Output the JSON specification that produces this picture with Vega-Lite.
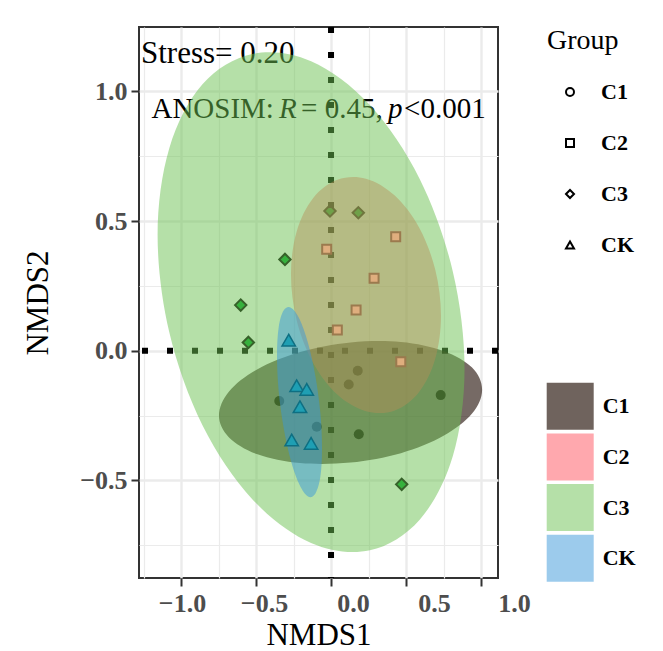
{
  "$schema": "https://vega.github.io/schema/vega-lite/v6.json",
  "width": 359,
  "height": 551,
  "autosize": "none",
  "padding": {"left": 139, "top": 27, "right": 165, "bottom": 73},
  "background": "white",
  "config": {
    "view": {"stroke": "#333333", "strokeWidth": 2},
    "font": "Liberation Serif"
  },
  "datasets": {
    "pts": [
      {"Group": "C1", "NMDS1": 0.178, "NMDS2": -0.077},
      {"Group": "C1", "NMDS1": 0.118, "NMDS2": -0.130},
      {"Group": "C1", "NMDS1": 0.731, "NMDS2": -0.171},
      {"Group": "C1", "NMDS1": -0.345, "NMDS2": -0.194},
      {"Group": "C1", "NMDS1": -0.095, "NMDS2": -0.293},
      {"Group": "C1", "NMDS1": 0.185, "NMDS2": -0.322},
      {"Group": "C2", "NMDS1": 0.431, "NMDS2": 0.439},
      {"Group": "C2", "NMDS1": -0.029, "NMDS2": 0.391},
      {"Group": "C2", "NMDS1": 0.287, "NMDS2": 0.279},
      {"Group": "C2", "NMDS1": 0.167, "NMDS2": 0.157},
      {"Group": "C2", "NMDS1": 0.042, "NMDS2": 0.080},
      {"Group": "C2", "NMDS1": 0.465, "NMDS2": -0.042},
      {"Group": "C3", "NMDS1": -0.007, "NMDS2": 0.539},
      {"Group": "C3", "NMDS1": 0.182, "NMDS2": 0.532},
      {"Group": "C3", "NMDS1": -0.307, "NMDS2": 0.352},
      {"Group": "C3", "NMDS1": -0.602, "NMDS2": 0.176},
      {"Group": "C3", "NMDS1": -0.551, "NMDS2": 0.032},
      {"Group": "C3", "NMDS1": 0.471, "NMDS2": -0.515},
      {"Group": "CK", "NMDS1": -0.282, "NMDS2": 0.041},
      {"Group": "CK", "NMDS1": -0.229, "NMDS2": -0.135},
      {"Group": "CK", "NMDS1": -0.162, "NMDS2": -0.149},
      {"Group": "CK", "NMDS1": -0.207, "NMDS2": -0.216},
      {"Group": "CK", "NMDS1": -0.262, "NMDS2": -0.344},
      {"Group": "CK", "NMDS1": -0.133, "NMDS2": -0.357}
    ],
    "ell": [
      {"Group": "C1", "i": 0, "NMDS1": 1.007, "NMDS2": -0.150},
      {"Group": "C1", "i": 1, "NMDS1": 0.940, "NMDS2": -0.242},
      {"Group": "C1", "i": 2, "NMDS1": 0.750, "NMDS2": -0.328},
      {"Group": "C1", "i": 3, "NMDS1": 0.466, "NMDS2": -0.395},
      {"Group": "C1", "i": 4, "NMDS1": 0.130, "NMDS2": -0.431},
      {"Group": "C1", "i": 5, "NMDS1": -0.206, "NMDS2": -0.433},
      {"Group": "C1", "i": 6, "NMDS1": -0.490, "NMDS2": -0.399},
      {"Group": "C1", "i": 7, "NMDS1": -0.680, "NMDS2": -0.334},
      {"Group": "C1", "i": 8, "NMDS1": -0.747, "NMDS2": -0.250},
      {"Group": "C1", "i": 9, "NMDS1": -0.680, "NMDS2": -0.157},
      {"Group": "C1", "i": 10, "NMDS1": -0.490, "NMDS2": -0.071},
      {"Group": "C1", "i": 11, "NMDS1": -0.206, "NMDS2": -0.005},
      {"Group": "C1", "i": 12, "NMDS1": 0.130, "NMDS2": 0.032},
      {"Group": "C1", "i": 13, "NMDS1": 0.466, "NMDS2": 0.034},
      {"Group": "C1", "i": 14, "NMDS1": 0.750, "NMDS2": -0.001},
      {"Group": "C1", "i": 15, "NMDS1": 0.940, "NMDS2": -0.065},
      {"Group": "C2", "i": 0, "NMDS1": 0.733, "NMDS2": 0.135},
      {"Group": "C2", "i": 1, "NMDS1": 0.695, "NMDS2": -0.030},
      {"Group": "C2", "i": 2, "NMDS1": 0.587, "NMDS2": -0.159},
      {"Group": "C2", "i": 3, "NMDS1": 0.425, "NMDS2": -0.230},
      {"Group": "C2", "i": 4, "NMDS1": 0.233, "NMDS2": -0.233},
      {"Group": "C2", "i": 5, "NMDS1": 0.042, "NMDS2": -0.169},
      {"Group": "C2", "i": 6, "NMDS1": -0.120, "NMDS2": -0.046},
      {"Group": "C2", "i": 7, "NMDS1": -0.229, "NMDS2": 0.117},
      {"Group": "C2", "i": 8, "NMDS1": -0.267, "NMDS2": 0.295},
      {"Group": "C2", "i": 9, "NMDS1": -0.229, "NMDS2": 0.460},
      {"Group": "C2", "i": 10, "NMDS1": -0.120, "NMDS2": 0.588},
      {"Group": "C2", "i": 11, "NMDS1": 0.042, "NMDS2": 0.659},
      {"Group": "C2", "i": 12, "NMDS1": 0.233, "NMDS2": 0.663},
      {"Group": "C2", "i": 13, "NMDS1": 0.425, "NMDS2": 0.598},
      {"Group": "C2", "i": 14, "NMDS1": 0.587, "NMDS2": 0.475},
      {"Group": "C2", "i": 15, "NMDS1": 0.695, "NMDS2": 0.312},
      {"Group": "C3", "i": 0, "NMDS1": 0.890, "NMDS2": -0.070},
      {"Group": "C3", "i": 1, "NMDS1": 0.812, "NMDS2": -0.406},
      {"Group": "C3", "i": 2, "NMDS1": 0.591, "NMDS2": -0.651},
      {"Group": "C3", "i": 3, "NMDS1": 0.259, "NMDS2": -0.769},
      {"Group": "C3", "i": 4, "NMDS1": -0.133, "NMDS2": -0.741},
      {"Group": "C3", "i": 5, "NMDS1": -0.525, "NMDS2": -0.572},
      {"Group": "C3", "i": 6, "NMDS1": -0.857, "NMDS2": -0.287},
      {"Group": "C3", "i": 7, "NMDS1": -1.078, "NMDS2": 0.071},
      {"Group": "C3", "i": 8, "NMDS1": -1.156, "NMDS2": 0.446},
      {"Group": "C3", "i": 9, "NMDS1": -1.078, "NMDS2": 0.781},
      {"Group": "C3", "i": 10, "NMDS1": -0.857, "NMDS2": 1.027},
      {"Group": "C3", "i": 11, "NMDS1": -0.525, "NMDS2": 1.144},
      {"Group": "C3", "i": 12, "NMDS1": -0.133, "NMDS2": 1.116},
      {"Group": "C3", "i": 13, "NMDS1": 0.259, "NMDS2": 0.947},
      {"Group": "C3", "i": 14, "NMDS1": 0.591, "NMDS2": 0.662},
      {"Group": "C3", "i": 15, "NMDS1": 0.812, "NMDS2": 0.305},
      {"Group": "CK", "i": 0, "NMDS1": -0.060, "NMDS2": -0.377},
      {"Group": "CK", "i": 1, "NMDS1": -0.071, "NMDS2": -0.485},
      {"Group": "CK", "i": 2, "NMDS1": -0.104, "NMDS2": -0.550},
      {"Group": "CK", "i": 3, "NMDS1": -0.153, "NMDS2": -0.562},
      {"Group": "CK", "i": 4, "NMDS1": -0.210, "NMDS2": -0.517},
      {"Group": "CK", "i": 5, "NMDS1": -0.267, "NMDS2": -0.425},
      {"Group": "CK", "i": 6, "NMDS1": -0.316, "NMDS2": -0.297},
      {"Group": "CK", "i": 7, "NMDS1": -0.349, "NMDS2": -0.155},
      {"Group": "CK", "i": 8, "NMDS1": -0.360, "NMDS2": -0.019},
      {"Group": "CK", "i": 9, "NMDS1": -0.349, "NMDS2": 0.090},
      {"Group": "CK", "i": 10, "NMDS1": -0.316, "NMDS2": 0.155},
      {"Group": "CK", "i": 11, "NMDS1": -0.267, "NMDS2": 0.166},
      {"Group": "CK", "i": 12, "NMDS1": -0.210, "NMDS2": 0.122},
      {"Group": "CK", "i": 13, "NMDS1": -0.153, "NMDS2": 0.029},
      {"Group": "CK", "i": 14, "NMDS1": -0.104, "NMDS2": -0.098},
      {"Group": "CK", "i": 15, "NMDS1": -0.071, "NMDS2": -0.241}
    ]
  },
  "resolve": {"axis": {"x": "independent", "y": "independent"}},
  "layer": [
    {
      "data": {"name": "pts"},
      "transform": [{"filter": "datum.Group == 'C1'"}],
      "mark": {"type": "point", "shape": "circle", "filled": true, "fill": "#000000", "strokeWidth": 0, "size": 100, "opacity": 1},
      "encoding": {
        "x": {"field": "NMDS1", "type": "quantitative",
          "scale": {"domain": [-1.28, 1.113], "nice": false, "zero": false},
          "axis": {"orient": "bottom", "values": [-1, -0.5, 0, 0.5, 1], "format": ".1f",
            "labelFont": "Liberation Serif", "labelFontSize": 26, "labelFontWeight": "bold", "labelColor": "#4d4d4d",
            "labelPadding": 4, "labelFlush": false, "labelOverlap": false, "labelBound": false,
            "labelOffset": {"condition": [
              {"test": "datum.value == -0.5", "value": 8},
              {"test": "datum.value == 0", "value": 22},
              {"test": "datum.value == 0.5", "value": 28},
              {"test": "datum.value == 1", "value": 33}], "value": 1},
            "tickSize": 8, "tickWidth": 2, "tickColor": "#333333", "domain": false,
            "grid": true, "gridColor": "#ebebeb", "gridWidth": 2.4,
            "title": "NMDS1", "titleFont": "Liberation Serif", "titleFontSize": 31, "titleFontWeight": "normal", "titleColor": "#000000", "titlePadding": 4}},
        "y": {"field": "NMDS2", "type": "quantitative",
          "scale": {"domain": [-0.876, 1.248], "nice": false, "zero": false},
          "axis": {"orient": "left", "values": [-0.5, 0, 0.5, 1], "format": ".1f",
            "labelFont": "Liberation Serif", "labelFontSize": 26, "labelFontWeight": "bold", "labelColor": "#4d4d4d",
            "labelPadding": 4, "labelFlush": false, "labelOverlap": false,
            "tickSize": 8, "tickWidth": 2, "tickColor": "#333333", "domain": false,
            "grid": true, "gridColor": "#ebebeb", "gridWidth": 2.4,
            "title": "NMDS2", "titleFont": "Liberation Serif", "titleFontSize": 31, "titleFontWeight": "normal", "titleColor": "#000000", "titlePadding": 25}}
      }
    },
    {
      "data": {"name": "pts"},
      "transform": [{"filter": "datum.Group == 'C3'"}],
      "mark": {"type": "point", "shape": "diamond", "filled": true, "fill": "#00a028", "stroke": "#000000", "strokeWidth": 2, "size": 130, "opacity": 1},
      "encoding": {
        "x": {"field": "NMDS1", "type": "quantitative",
          "axis": {"orient": "top", "values": [-1.25, -0.75, -0.25, 0.25, 0.75], "grid": true, "gridColor": "#ebebeb", "gridWidth": 1.2, "labels": false, "ticks": false, "domain": false, "title": null}},
        "y": {"field": "NMDS2", "type": "quantitative",
          "axis": {"orient": "right", "values": [-0.75, -0.25, 0.25, 0.75], "grid": true, "gridColor": "#ebebeb", "gridWidth": 1.2, "labels": false, "ticks": false, "domain": false, "title": null}}
      }
    },
    {
      "data": {"values": [{}]},
      "mark": {"type": "text", "text": "Stress= 0.20", "font": "Liberation Serif", "fontSize": 31, "align": "left", "baseline": "alphabetic", "color": "#000000"},
      "encoding": {"x": {"datum": -1.267, "type": "quantitative", "axis": null}, "y": {"datum": 1.108, "type": "quantitative", "axis": null}}
    },
    {
      "data": {"values": [{}]},
      "mark": {"type": "text", "text": "ANOSIM:", "font": "Liberation Serif", "fontSize": 29, "align": "left", "baseline": "alphabetic", "color": "#000000"},
      "encoding": {"x": {"datum": -1.197, "type": "quantitative", "axis": null}, "y": {"datum": 0.896, "type": "quantitative", "axis": null}}
    },
    {
      "data": {"values": [{}]},
      "mark": {"type": "text", "text": "R", "font": "Liberation Serif", "fontSize": 29, "fontStyle": "italic", "align": "left", "baseline": "alphabetic", "color": "#000000"},
      "encoding": {"x": {"datum": -0.347, "type": "quantitative", "axis": null}, "y": {"datum": 0.896, "type": "quantitative", "axis": null}}
    },
    {
      "data": {"values": [{}]},
      "mark": {"type": "text", "text": "= 0.45,", "font": "Liberation Serif", "fontSize": 29, "align": "left", "baseline": "alphabetic", "color": "#000000"},
      "encoding": {"x": {"datum": -0.2, "type": "quantitative", "axis": null}, "y": {"datum": 0.896, "type": "quantitative", "axis": null}}
    },
    {
      "data": {"values": [{}]},
      "mark": {"type": "text", "text": "p", "font": "Liberation Serif", "fontSize": 29, "fontStyle": "italic", "align": "left", "baseline": "alphabetic", "color": "#000000"},
      "encoding": {"x": {"datum": 0.38, "type": "quantitative", "axis": null}, "y": {"datum": 0.896, "type": "quantitative", "axis": null}}
    },
    {
      "data": {"values": [{}]},
      "mark": {"type": "text", "text": "<0.001", "font": "Liberation Serif", "fontSize": 29, "align": "left", "baseline": "alphabetic", "color": "#000000"},
      "encoding": {"x": {"datum": 0.487, "type": "quantitative", "axis": null}, "y": {"datum": 0.896, "type": "quantitative", "axis": null}}
    },
    {
      "data": {"values": [{}]},
      "mark": {"type": "rule", "color": "#000000", "strokeWidth": 6, "strokeDash": [6, 19], "strokeCap": "butt"},
      "encoding": {"y": {"datum": 0, "type": "quantitative", "axis": null}}
    },
    {
      "data": {"values": [{}]},
      "mark": {"type": "rule", "color": "#000000", "strokeWidth": 6, "strokeDash": [6, 19], "strokeCap": "butt"},
      "encoding": {"x": {"datum": 0, "type": "quantitative", "axis": null}}
    },
    {
      "data": {"name": "ell"},
      "transform": [{"filter": "datum.Group == 'C1'"}],
      "mark": {"type": "line", "interpolate": "cardinal-closed", "filled": true, "fill": "#220f06", "fillOpacity": 0.62, "strokeWidth": 0, "stroke": "transparent"},
      "encoding": {"x": {"field": "NMDS1", "type": "quantitative", "axis": null}, "y": {"field": "NMDS2", "type": "quantitative", "axis": null}, "order": {"field": "i", "type": "quantitative"}}
    },
    {
      "data": {"name": "ell"},
      "transform": [{"filter": "datum.Group == 'C2'"}],
      "mark": {"type": "line", "interpolate": "cardinal-closed", "filled": true, "fill": "#ff5a5e", "fillOpacity": 0.45, "strokeWidth": 0, "stroke": "transparent"},
      "encoding": {"x": {"field": "NMDS1", "type": "quantitative", "axis": null}, "y": {"field": "NMDS2", "type": "quantitative", "axis": null}, "order": {"field": "i", "type": "quantitative"}}
    },
    {
      "data": {"name": "ell"},
      "transform": [{"filter": "datum.Group == 'C3'"}],
      "mark": {"type": "line", "interpolate": "cardinal-closed", "filled": true, "fill": "#6bc151", "fillOpacity": 0.5, "strokeWidth": 0, "stroke": "transparent"},
      "encoding": {"x": {"field": "NMDS1", "type": "quantitative", "axis": null}, "y": {"field": "NMDS2", "type": "quantitative", "axis": null}, "order": {"field": "i", "type": "quantitative"}}
    },
    {
      "data": {"name": "ell"},
      "transform": [{"filter": "datum.Group == 'CK'"}],
      "mark": {"type": "line", "interpolate": "cardinal-closed", "filled": true, "fill": "#3997d9", "fillOpacity": 0.5, "strokeWidth": 0, "stroke": "transparent"},
      "encoding": {"x": {"field": "NMDS1", "type": "quantitative", "axis": null}, "y": {"field": "NMDS2", "type": "quantitative", "axis": null}, "order": {"field": "i", "type": "quantitative"}}
    },
    {
      "data": {"name": "pts"},
      "transform": [{"filter": "datum.Group == 'C2'"}],
      "mark": {"type": "point", "shape": "square", "filled": true, "fill": "#dfae7e", "stroke": "#9b7a4e", "strokeWidth": 2, "size": 81, "opacity": 1},
      "encoding": {"x": {"field": "NMDS1", "type": "quantitative", "axis": null}, "y": {"field": "NMDS2", "type": "quantitative", "axis": null}}
    },
    {
      "data": {"name": "pts"},
      "transform": [{"filter": "datum.Group == 'CK'"}],
      "mark": {"type": "point", "shape": "triangle-up", "filled": true, "fill": "#1f9fb3", "stroke": "#0e6f82", "strokeWidth": 1.5, "size": 180, "opacity": 1},
      "encoding": {"x": {"field": "NMDS1", "type": "quantitative", "axis": null}, "y": {"field": "NMDS2", "type": "quantitative", "axis": null}}
    },
    {
      "data": {"name": "pts"},
      "transform": [{"filter": "false"}],
      "mark": {"type": "point", "filled": false, "stroke": "#000000", "strokeWidth": 2, "opacity": 1},
      "encoding": {
        "x": {"field": "NMDS1", "type": "quantitative", "axis": null},
        "y": {"field": "NMDS2", "type": "quantitative", "axis": null},
        "shape": {"field": "Group", "type": "nominal",
          "scale": {"domain": ["C1", "C2", "C3", "CK"], "range": ["circle", "square", "diamond", "triangle-up"]},
          "legend": {"title": "Group", "orient": "right", "offset": 48.7, "padding": 0,
            "titleFont": "Liberation Serif", "titleFontSize": 28, "titleFontWeight": "normal", "titleColor": "#000000", "titlePadding": 26,
            "labelFont": "Liberation Serif", "labelFontSize": 22, "labelFontWeight": "bold", "labelColor": "#000000",
            "symbolSize": 64, "symbolStrokeWidth": 2, "symbolStrokeColor": "#000000", "symbolFillColor": "transparent",
            "symbolOffset": 12, "labelOffset": 20, "rowPadding": 29}}
      }
    },
    {
      "data": {"name": "pts"},
      "transform": [{"filter": "false"}],
      "mark": {"type": "point", "filled": true, "opacity": 1},
      "encoding": {
        "x": {"field": "NMDS1", "type": "quantitative", "axis": null},
        "y": {"field": "NMDS2", "type": "quantitative", "axis": null},
        "fill": {"field": "Group", "type": "nominal",
          "scale": {"domain": ["C1", "C2", "C3", "CK"], "range": ["#6f635d", "#ffa8ae", "#b5e0a8", "#9ccbec"]},
          "legend": {"title": null, "orient": "none", "legendX": 407.7, "legendY": 355.7, "padding": 0,
            "symbolType": "square", "symbolSize": 2209, "symbolStrokeWidth": 0, "symbolOpacity": 1,
            "labelFont": "Liberation Serif", "labelFontSize": 22, "labelFontWeight": "bold", "labelColor": "#000000",
            "labelOffset": 9, "rowPadding": 3.7}}
      }
    }
  ]
}
